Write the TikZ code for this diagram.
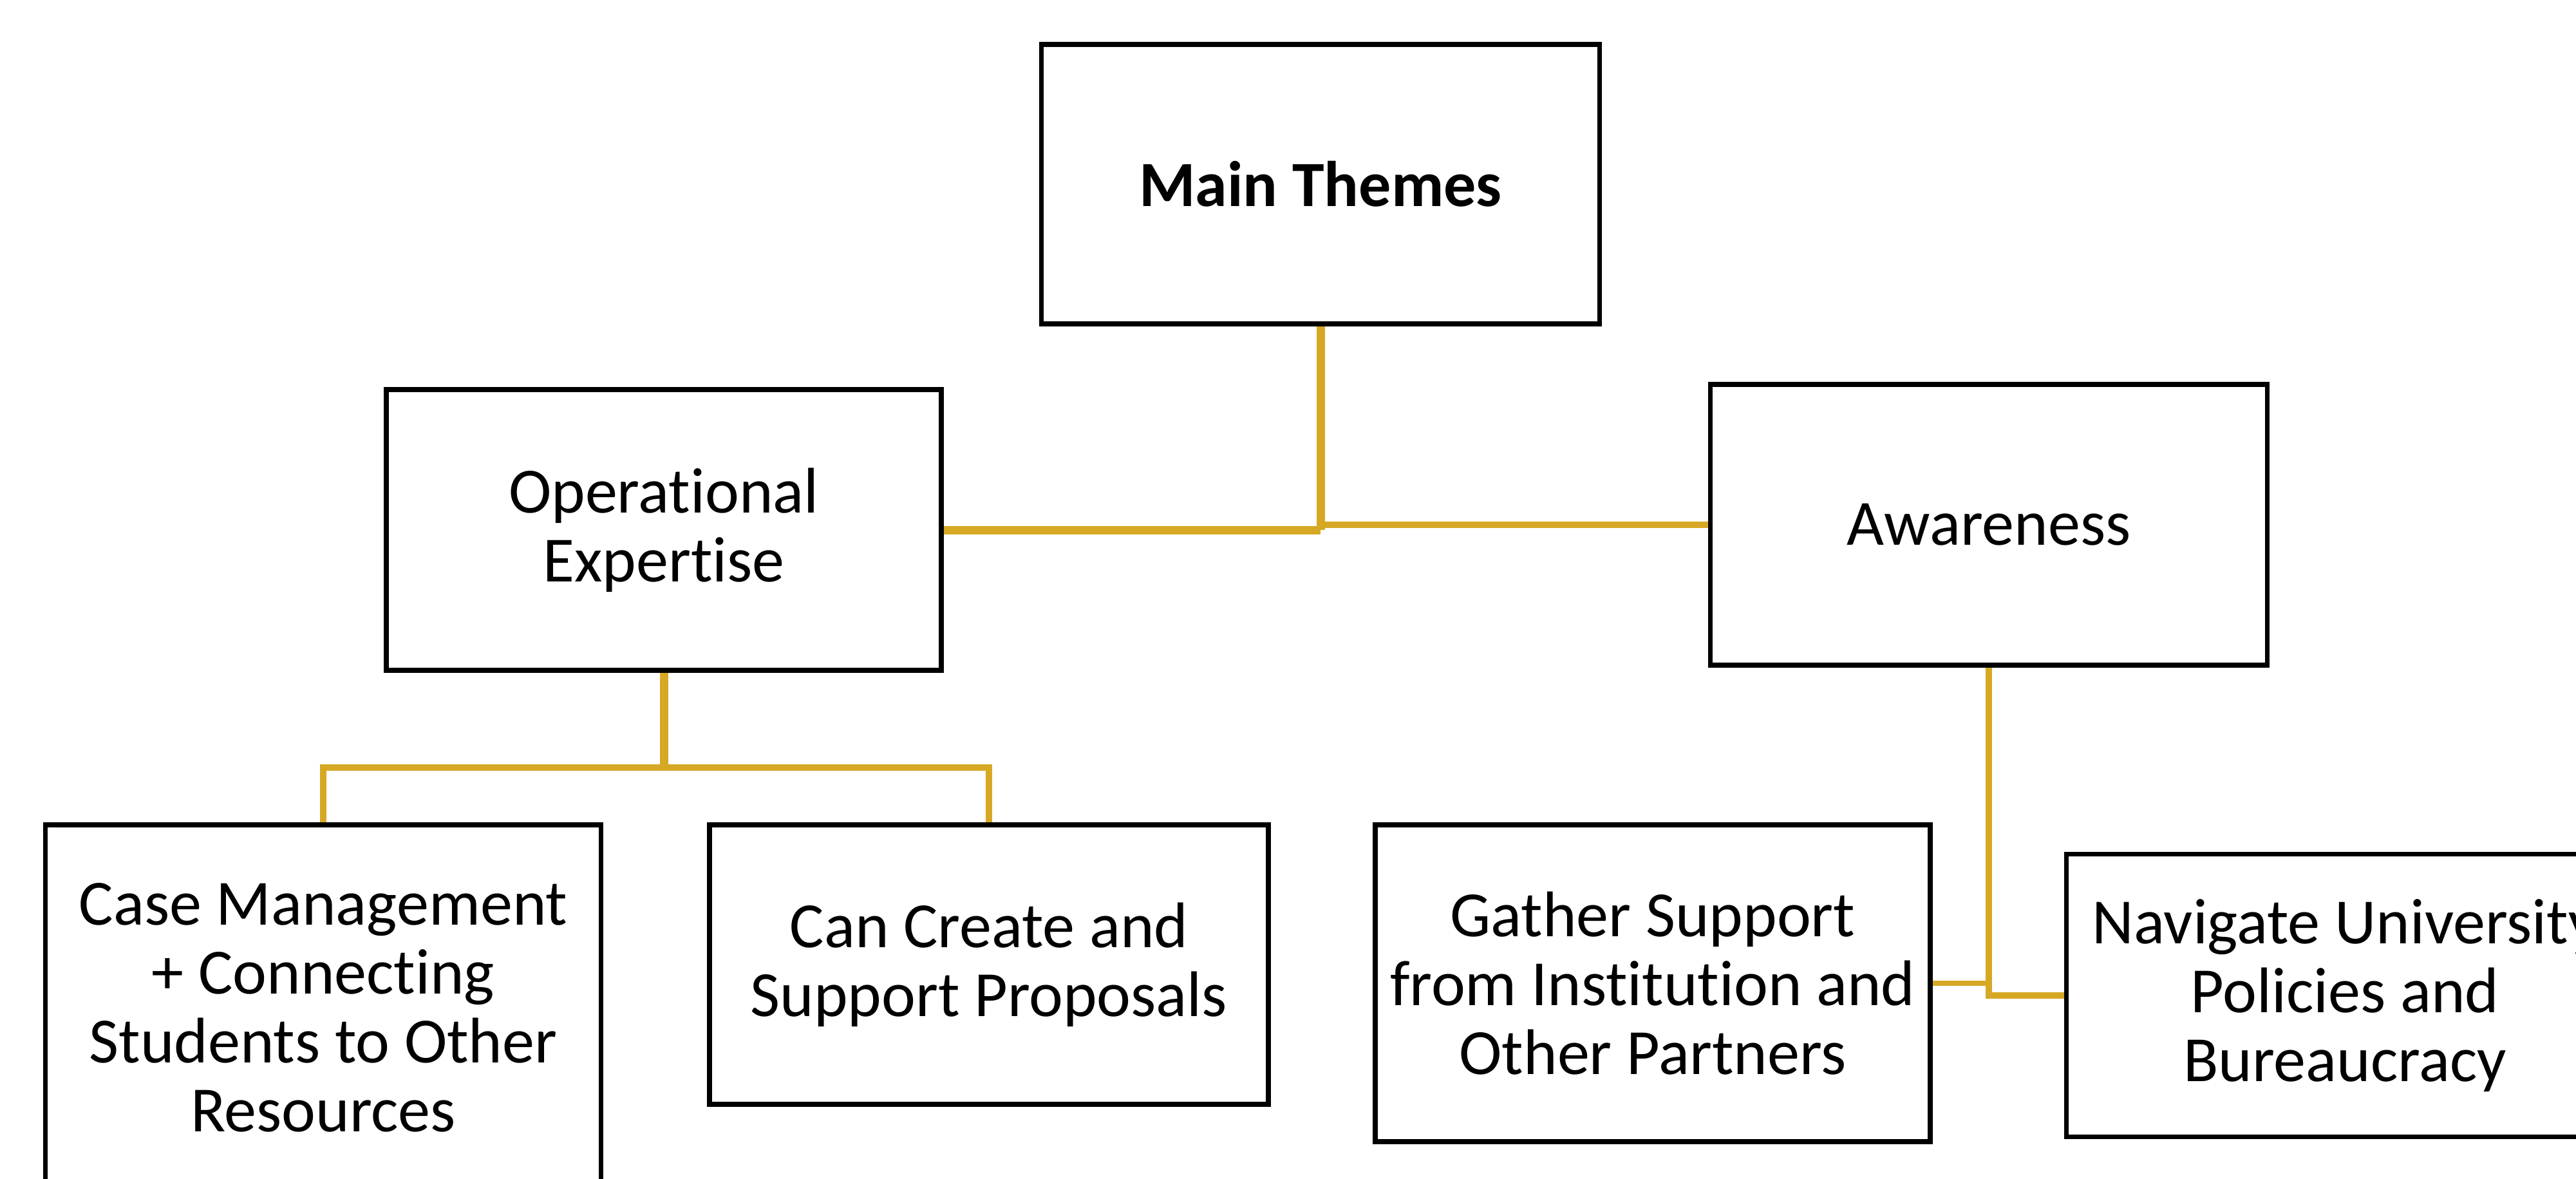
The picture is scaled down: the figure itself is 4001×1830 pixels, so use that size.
\documentclass[tikz,border=0pt]{standalone}
\usepackage{fontspec}
\setmainfont{Carlito}[Ligatures=CommonOff]
\usetikzlibrary{backgrounds}
\definecolor{gold}{RGB}{214,168,36}
\begin{document}
\begin{tikzpicture}[x=0.1mm,y=-0.1mm,
  box/.style={draw=black, line width=0.75mm, rectangle, inner sep=0pt, align=center,
    font=\fontsize{28.5}{30.5}\selectfont, fill=white},
  conn/.style={draw=gold, line width=1mm},
  thickconn/.style={draw=gold, line width=1.3mm},
  thinconn/.style={draw=gold, line width=0.75mm}]
\useasboundingbox (0,0) rectangle (4001,1830);
\clip (0,0) rectangle (4001,1830);
\node[box, minimum width=86.7mm, minimum height=43.4mm] (main) at (2051,286) {\textbf{Main Themes}};
\node[box, minimum width=86.2mm, minimum height=43.6mm] (op) at (1031,823) {Operational\\Expertise};
\node[box, minimum width=86.5mm, minimum height=43.6mm] (aw) at (3089,815) {Awareness};
\node[box, minimum width=86.3mm, minimum height=56.8mm] (cm) at (502,1565) {Case Management\\+ Connecting\\Students to Other\\Resources};
\node[box, minimum width=86.8mm, minimum height=43.4mm] (cc) at (1536,1498) {Can Create and\\Support Proposals};
\node[box, minimum width=86.2mm, minimum height=49.2mm] (ga) at (2567,1527) {Gather Support\\from Institution and\\Other Partners};
\node[box, minimum width=86.5mm, minimum height=43.9mm] (nav) at (3642,1546) {Navigate University\\Policies and\\Bureaucracy};
\coordinate (opj) at (1031,1192);
\begin{scope}[on background layer]
\draw[thickconn] (main.south) -- (main.south |- op.east);
\draw[thickconn] (op.east) -- (main.south |- op.east);
\draw[conn] (main.south |- aw.west) -- (aw.west);
\draw[thickconn] (op.south) -- (opj);
\draw[conn] (cm.north) -- (cm.north |- opj) -- (cc.north |- opj) -- (cc.north);
\draw[conn] (aw.south) -- (aw.south |- nav.west) -- (nav.west);
\draw[thinconn] (ga.east) -- (aw.south |- ga.east);
\end{scope}
\end{tikzpicture}
\end{document}
